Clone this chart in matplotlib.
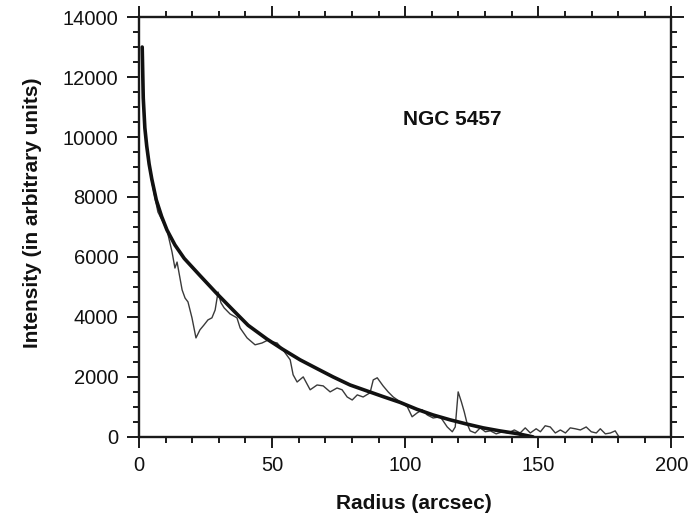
import matplotlib
matplotlib.use("Agg")
import matplotlib.pyplot as plt
from matplotlib.ticker import MultipleLocator

# Radial intensity profile (thin noisy trace)
radius_obs = [1.2, 1.8, 2.9, 4.8, 7.1, 10.5, 12.4, 13.5, 14.3, 16.2, 17.3, 18.4,
              19.9, 21.4, 22.9, 24.4, 25.9, 27.4, 28.6, 29.7, 30.8, 32.0, 34.2,
              36.8, 38.0, 40.6, 43.6, 46.2, 48.5, 50.0, 51.9, 54.1, 56.8, 57.9,
              59.4, 61.7, 64.3, 66.9, 69.2, 71.8, 74.4, 76.3, 78.2, 80.1, 82.0,
              84.2, 86.8, 88.0, 89.5, 91.7, 93.6, 95.5, 98.1, 100.8, 102.6,
              104.5, 106.4, 108.3, 110.5, 113.2, 115.8, 117.7, 118.8, 119.9,
              121.1, 122.2, 123.3, 124.4, 126.3, 128.2, 130.1, 132.0, 134.2,
              136.5, 138.7, 141.0, 143.2, 145.1, 147.0, 149.2, 150.8, 152.6,
              154.5, 156.4, 158.3, 160.2, 162.0, 163.9, 165.8, 168.0, 169.9,
              171.8, 173.3, 175.2, 177.1, 178.9, 180.1]
intensity_obs = [13000, 10800, 9700, 8500, 7500, 6900, 6170, 5630, 5830, 4900,
                 4630, 4500, 3970, 3300, 3570, 3730, 3900, 3970, 4230, 4830,
                 4470, 4300, 4100, 3970, 3630, 3300, 3070, 3130, 3230, 3170,
                 3130, 2900, 2570, 2070, 1830, 2000, 1570, 1730, 1700, 1500,
                 1630, 1570, 1330, 1230, 1400, 1330, 1470, 1900, 1970, 1700,
                 1500, 1330, 1170, 1000, 670, 800, 900, 730, 630, 670, 330,
                 170, 330, 1500, 1170, 830, 430, 200, 130, 300, 170, 200, 100,
                 170, 130, 230, 130, 300, 130, 270, 170, 370, 330, 130, 230,
                 130, 300, 270, 230, 330, 170, 130, 270, 100, 130, 200, 30]

# Fitted profile (thick smooth curve)
radius_fit = [1.2, 1.6, 2.2, 2.9, 3.8, 4.8, 6.5, 8.5, 10.5, 13.5, 17.0, 22.9,
              29.0, 35.3, 41.0, 48.1, 54.0, 60.5, 67.0, 72.9, 79.3, 85.7,
              91.8, 98.1, 104.4, 110.5, 116.9, 123.0, 129.3, 135.5, 142.0,
              148.0]
intensity_fit = [13000, 11300, 10300, 9700, 9100, 8600, 7900, 7350, 6900, 6400,
                 5950, 5380, 4800, 4230, 3720, 3260, 2920, 2570, 2270, 2000,
                 1730, 1530, 1340, 1150, 920, 730, 567, 430, 300, 200, 110, 0]

fig = plt.figure(figsize=(6.95, 5.17), dpi=100)
ax = fig.add_axes([0.2, 0.155, 0.766, 0.812])

ax.plot(radius_obs, intensity_obs, color="#3a3a3a", lw=1.0)
ax.plot(radius_fit, intensity_fit, color="#111111", lw=2.6,
        solid_joinstyle="round", solid_capstyle="round")

ax.set_xlim(0, 200)
ax.set_ylim(0, 14000)
ax.xaxis.set_major_locator(MultipleLocator(50))
ax.xaxis.set_minor_locator(MultipleLocator(10))
ax.yaxis.set_major_locator(MultipleLocator(2000))
ax.yaxis.set_minor_locator(MultipleLocator(500))

for s in ax.spines.values():
    s.set_linewidth(1.7)
    s.set_color("#1a1a1a")

ax.tick_params(which="both", direction="out", top=True, right=True,
               color="#1a1a1a", width=1.4)
ax.tick_params(which="major", length=8, labelsize=14.5, pad=6,
               labelcolor="#111111")
ax.tick_params(which="minor", length=4.5)
ax.tick_params(axis="y", which="major", length=9)
for lbl in ax.get_xticklabels() + ax.get_yticklabels():
    lbl.set_family("Liberation Sans")

ax.set_xlabel("Radius (arcsec)", fontsize=15, fontweight="bold",
              family="Liberation Sans", color="#111111", labelpad=13)
ax.set_ylabel("Intensity (in arbitrary units)", fontsize=15,
              fontweight="bold", family="Liberation Sans", color="#111111",
              labelpad=15)
ax.xaxis.set_label_coords(0.517, -0.135)
ax.yaxis.label.set_y(0.533)
ax.text(117.7, 10570, "NGC 5457", fontsize=15, fontweight="bold",
        family="Liberation Sans", color="#111111", ha="center", va="center")

fig.savefig("out.png", dpi=100)
